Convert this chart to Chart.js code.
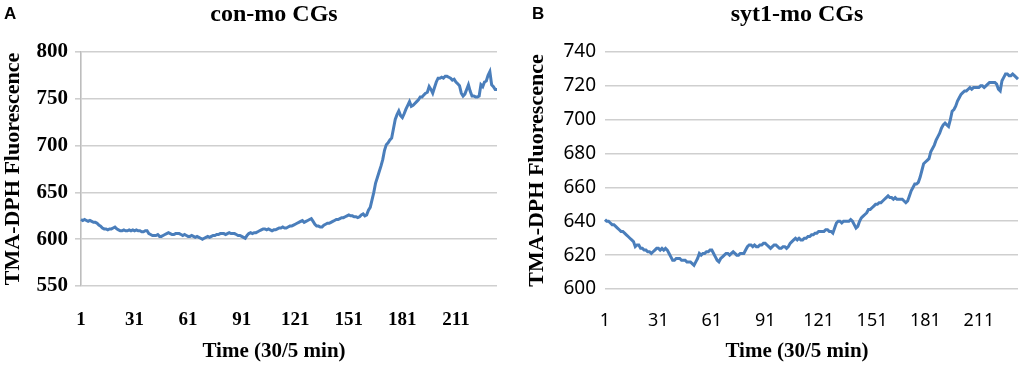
<!DOCTYPE html>
<html>
<head>
<meta charset="utf-8">
<script src="https://cdn.jsdelivr.net/npm/chart.js@4.4.0/dist/chart.umd.min.js"></script>
<style>
  html, body { margin: 0; padding: 0; background: #fff; }
  #wrap { position: relative; width: 1021px; height: 365px; }
  canvas { position: absolute; top: 0; }
  #chartA { left: 0; }
  #chartB { left: 510px; }
</style>
</head>
<body>
<div id="wrap">
  <canvas id="chartA" width="510" height="365" style="width:510px;height:365px"></canvas>
  <canvas id="chartB" width="511" height="365" style="width:511px;height:365px"></canvas>
</div>
<script>
// x tick labels shown on both panels
const xTicks = ['1', '31', '61', '91', '121', '151', '181', '211'];

// y tick values
const yTicksA = [550, 600, 650, 700, 750, 800];
const yTicksB = [600, 620, 640, 660, 680, 700, 720, 740];

// panel A: con-mo CGs
const valuesA = [
  621, 620, 621, 620, 619, 620, 619, 618, 618, 617,
  615, 614, 612, 611, 611, 610, 611, 611, 612, 613,
  611, 610, 609, 609, 610, 609, 609, 610, 609, 610,
  609, 610, 609, 609, 608, 608, 609, 609, 606, 605,
  604, 604, 604, 605, 603, 603, 604, 605, 606, 607,
  606, 605, 605, 606, 606, 606, 605, 604, 605, 604,
  603, 603, 604, 603, 602, 603, 602, 601, 600, 601,
  602, 603, 602, 603, 604, 604, 605, 605, 606, 606,
  606, 605, 606, 607, 606, 606, 606, 605, 604, 604,
  603, 602, 601, 604, 606, 607, 606, 607, 607, 608,
  609, 610, 611, 611, 610, 611, 610, 609, 610, 610,
  611, 612, 612, 613, 612, 612, 613, 614, 614, 615,
  616, 617, 618, 619, 620, 618, 619, 620, 621, 622,
  619, 616, 614, 614, 613, 613, 615, 616, 617, 617,
  618, 619, 620, 621, 621, 622, 623, 623, 624, 625,
  626, 625, 625, 624, 624, 623, 624, 626, 627, 625,
  626, 631, 634, 642, 650, 660, 666, 672, 678, 685,
  695, 701, 703, 706, 708, 718, 728, 733, 737, 732,
  730, 734, 739, 743, 747, 742, 743, 745, 747, 749,
  752, 752, 754, 756, 757, 763, 760, 756, 762, 768,
  772, 772, 773, 772, 774, 774, 773, 772, 770, 771,
  768, 766, 764, 756, 753, 755, 760, 765, 758, 753,
  753, 752, 752, 753, 765, 763, 768, 769, 775, 779,
  765, 763, 760, 760
];

// panel B: syt1-mo CGs
const valuesB = [
  641, 640, 640, 639, 638, 638, 637, 636, 635, 634,
  634, 633, 632, 631, 630, 629, 628, 625, 626, 626,
  624, 624, 623, 623, 622, 622, 621, 622, 623, 624,
  624, 623, 624, 623, 624, 623, 621, 619, 617, 617,
  618, 618, 618, 617, 617, 617, 616, 616, 616, 615,
  614, 616, 618, 621, 620, 621, 621, 622, 622, 623,
  623, 621, 619, 617, 616, 618, 619, 620, 621, 621,
  620, 621, 622, 621, 620, 620, 621, 621, 621, 623,
  625, 626, 626, 625, 626, 625, 625, 626, 626, 627,
  627, 626, 625, 624, 625, 626, 626, 625, 624, 624,
  625, 625, 624, 625, 627, 628, 629, 630, 629, 630,
  629, 629, 630, 630, 631, 631, 632, 632, 633, 633,
  634, 634, 634, 634, 635, 635, 634, 634, 633, 636,
  639, 640, 640, 639, 640, 640, 640, 640, 641, 640,
  638, 636, 637, 640, 642, 643, 644, 645, 647, 647,
  648, 649, 650, 650, 651, 651, 652, 653, 654, 655,
  654, 654, 653, 654, 653, 653, 653, 653, 652, 651,
  652, 655, 658, 660, 662, 662, 663, 666, 670, 674,
  675, 676, 677, 681, 683, 685, 688, 690, 692, 695,
  697, 698, 697, 696, 700, 705, 706, 708, 711, 713,
  715, 716, 717, 717, 718, 719, 718, 719, 719, 719,
  719, 720, 720, 719, 720, 721, 722, 722, 722, 722,
  721, 718, 717, 723, 725, 727, 727, 726, 726, 727,
  726, 725, 724
];

const serif = '"Liberation Serif", "Times New Roman", serif';
const sans = '"Noto Sans", "Open Sans", sans-serif';

const panelText = {
  id: 'panelText',
  afterDraw(chart, args, opts) {
    const ctx = chart.ctx;
    ctx.save();
    ctx.fillStyle = '#000';
    ctx.textBaseline = 'middle';
    ctx.textAlign = 'left';
    ctx.font = 'bold 17px "Liberation Sans", Arial, sans-serif';
    ctx.fillText(opts.letter, opts.letterX, 14);
    ctx.textAlign = 'center';
    ctx.font = 'bold 24px ' + serif;
    ctx.fillText(opts.title, opts.centerX, 15);
    ctx.font = 'bold 21px ' + serif;
    ctx.fillText('Time (30/5 min)', opts.centerX, 352);
    ctx.restore();
  }
};

function makeChart(id, values, yTicks, cfg) {
  const labels = values.map((v, i) => String(i + 1));
  return new Chart(document.getElementById(id), {
    type: 'line',
    data: {
      labels: labels,
      datasets: [{
        data: values,
        borderColor: '#4a7ebb',
        borderWidth: 3,
        pointRadius: 0,
        tension: 0,
        fill: false
      }]
    },
    options: {
      responsive: false,
      animation: false,
      layout: { padding: { top: cfg.top, left: cfg.padLeft, right: cfg.padRight, bottom: 0 } },
      plugins: {
        legend: { display: false },
        tooltip: { enabled: false },
        panelText: cfg.text
      },
      scales: {
        x: {
          grid: { display: false },
          border: { display: false },
          ticks: {
            autoSkip: false,
            maxRotation: 0,
            padding: cfg.xPad,
            color: '#000',
            font: cfg.xFont,
            callback: function (val) {
              const l = this.getLabelForValue(val);
              return xTicks.includes(l) ? l : '';
            }
          },
          afterFit: s => {
            s.height = cfg.xHeight;
            s.paddingLeft = 0;
            s.paddingRight = 0;
          }
        },
        y: {
          min: yTicks[0],
          max: yTicks[yTicks.length - 1],
          afterBuildTicks: s => { s.ticks = yTicks.map(v => ({ value: v })); },
          ticks: { color: '#000', font: cfg.yFont, padding: cfg.yPad },
          grid: { color: '#cfcfcf', lineWidth: 1.6, drawTicks: cfg.drawTicks, tickLength: 6 },
          border: { display: cfg.yBorder, color: '#bdbdbd', width: 1.6 },
          title: {
            display: true,
            text: 'TMA-DPH Fluorescence',
            color: '#000',
            font: { family: serif, weight: 'bold', size: 22 },
            padding: { top: 0, bottom: 0 }
          },
          afterFit: s => { s.width = cfg.yWidth; }
        }
      }
    },
    plugins: [panelText]
  });
}

makeChart('chartA', valuesA, yTicksA, {
  top: 52, padLeft: 0, padRight: 13, xHeight: 79, yWidth: 81, yPad: 7, xPad: 15,
  drawTicks: true, yBorder: true,
  xFont: { family: serif, weight: 'bold', size: 19 },
  yFont: { family: serif, weight: 'bold', size: 21 },
  text: { letter: 'A', letterX: 4, title: 'con-mo CGs', centerX: 274 }
});

makeChart('chartB', valuesB, yTicksB, {
  top: 52, padLeft: 14, padRight: 3, xHeight: 76, yWidth: 81, yPad: 9, xPad: 13,
  drawTicks: false, yBorder: false,
  xFont: { family: sans, size: 18 },
  yFont: { family: sans, size: 19 },
  text: { letter: 'B', letterX: 22, title: 'syt1-mo CGs', centerX: 287 }
});
</script>
</body>
</html>
